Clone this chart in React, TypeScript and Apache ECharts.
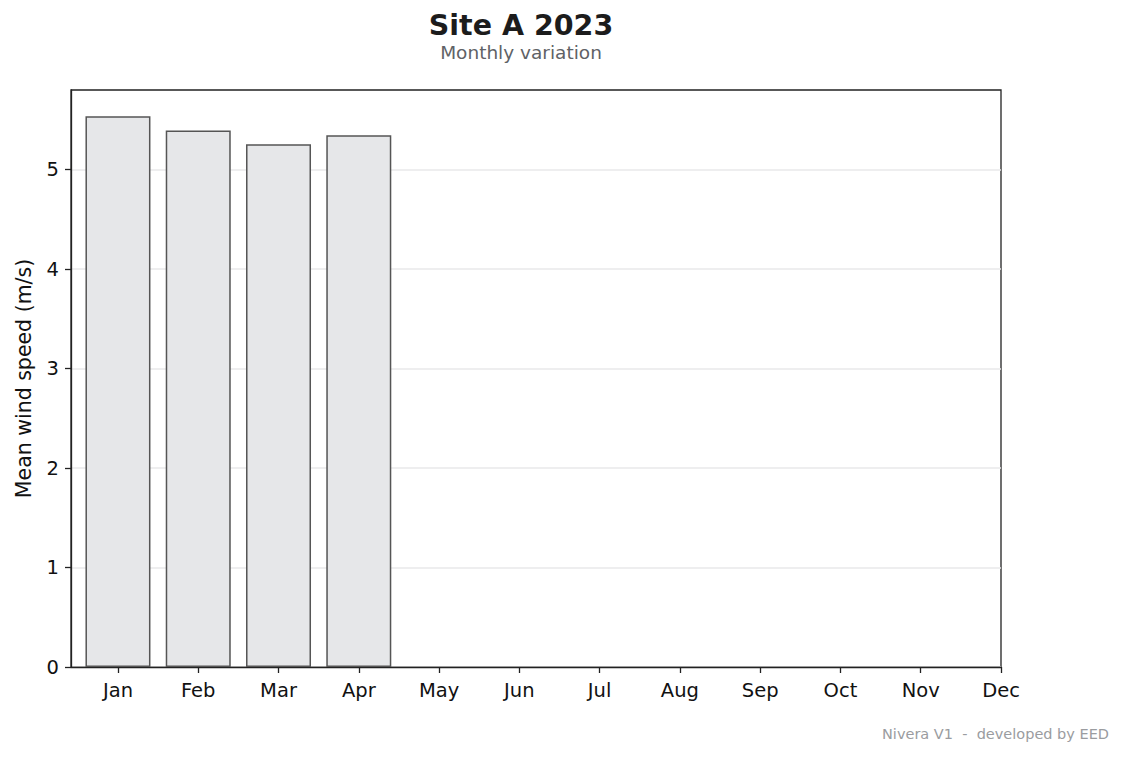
import React, { useEffect, useRef } from "react";
import * as echarts from "echarts";

const months = ["Jan", "Feb", "Mar", "Apr", "May", "Jun", "Jul", "Aug", "Sep", "Oct", "Nov", "Dec"];
const monthIndex = [0, 1, 2, 3, 4, 5, 6, 7, 8, 9, 10, 11];
const windSpeed = [5.536, 5.392, 5.254, 5.345];
const yTicks = [0, 1, 2, 3, 4, 5];

const FONT = "DejaVu Sans";

export default function App() {
  const ref = useRef<HTMLDivElement>(null);
  useEffect(() => {
    if (!ref.current) return;
    const chart = echarts.init(ref.current, undefined, { renderer: "svg" });
    chart.setOption({
      animation: false,
      backgroundColor: "#ffffff",
      textStyle: { fontFamily: FONT },
      grid: {
        left: 71,
        right: 123,
        top: 90,
        bottom: 90,
        show: true,
        borderColor: "#222222",
        borderWidth: 1.3,
        backgroundColor: "transparent",
      },
      xAxis: {
        type: "value",
        min: -0.585,
        max: 11,
        splitLine: { show: false },
        axisLine: { show: true, onZero: false, lineStyle: { color: "#222222", width: 1.3 } },
        axisTick: {
          show: true,
          customValues: monthIndex,
          length: 6,
          lineStyle: { color: "#222222", width: 1.3 },
        },
        axisLabel: {
          customValues: monthIndex,
          formatter: (v: number) => months[Math.round(v)] ?? "",
          color: "#111111",
          fontSize: 19.5,
          fontFamily: FONT,
          margin: 13,
        },
      },
      yAxis: {
        type: "value",
        min: 0,
        max: 5.8,
        interval: 1,
        name: "Mean wind speed (m/s)",
        nameLocation: "middle",
        nameGap: 37,
        nameTextStyle: { fontSize: 20.5, color: "#111111", fontFamily: FONT },
        axisLine: { show: true, onZero: false, lineStyle: { color: "#222222", width: 1.3 } },
        axisTick: {
          show: true,
          customValues: yTicks,
          length: 6,
          lineStyle: { color: "#222222", width: 1.3 },
        },
        axisLabel: {
          customValues: yTicks,
          color: "#111111",
          fontSize: 19.5,
          fontFamily: FONT,
          margin: 12,
        },
        splitLine: { show: true, lineStyle: { color: "#e8e8ea", width: 1.5 } },
      },
      series: [
        {
          type: "bar",
          data: windSpeed.map((v, i) => [monthIndex[i], v]),
          barWidth: 65,
          itemStyle: { color: "#e6e7e9", borderColor: "#555555", borderWidth: 1.5 },
        },
      ],
      graphic: [
        {
          type: "text",
          x: 521,
          y: 25,
          style: {
            text: "Site A 2023",
            fontFamily: FONT,
            fontWeight: "bold",
            fontSize: 28.5,
            lineHeight: 27,
            fill: "#1c1c1c",
            textAlign: "center",
            textVerticalAlign: "middle",
          },
        },
        {
          type: "text",
          x: 521,
          y: 52.5,
          style: {
            text: "Monthly variation",
            fontFamily: FONT,
            fontSize: 18.5,
            lineHeight: 18,
            fill: "#606266",
            textAlign: "center",
            textVerticalAlign: "middle",
          },
        },
        {
          type: "text",
          x: 1109,
          y: 734,
          style: {
            text: "Nivera V1  -  developed by EED",
            fontFamily: FONT,
            fontSize: 14.5,
            fill: "#9a9ca0",
            textAlign: "right",
            textVerticalAlign: "middle",
          },
        },
      ],
    });
    return () => chart.dispose();
  }, []);
  return <div ref={ref} style={{ width: 1124, height: 757, position: "absolute", left: 0, top: 0 }} />;
}
